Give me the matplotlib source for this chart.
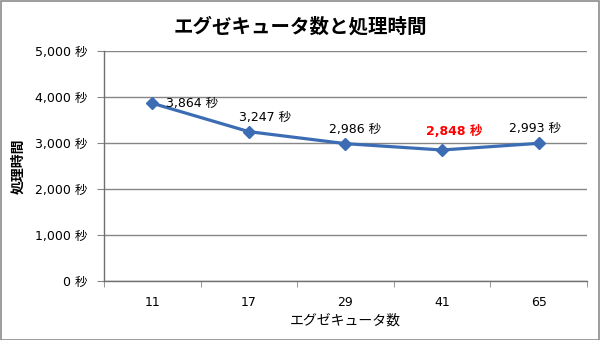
import matplotlib
matplotlib.use("Agg")
import matplotlib.pyplot as plt
from matplotlib.patches import Rectangle

plt.rcParams['font.family'] = ['DejaVu Sans', 'Noto Sans CJK JP']
JP = ['Noto Sans CJK JP', 'DejaVu Sans']

# data
executors = ['11', '17', '29', '41', '65']
seconds = [3864, 3247, 2986, 2848, 2993]
best_idx = 3
y_ticks = [0, 1000, 2000, 3000, 4000, 5000]
# label offsets in points (dx, dy) relative to each marker
label_offsets = [(29, 0), (12, 10), (7, 10), (9, 13), (-3, 11)]

LINE_COLOR = '#3c6db4'
GRID_COLOR = '#868686'

fig = plt.figure(figsize=(6, 3.4), dpi=100)
ax = fig.add_axes([0.1733, 0.1735, 0.8050, 0.6765])

x = list(range(len(executors)))
ax.plot(x, seconds, color=LINE_COLOR, linewidth=2.3, marker='D',
        markersize=6, markerfacecolor=LINE_COLOR, markeredgecolor=LINE_COLOR,
        zorder=3)

for i, v in enumerate(seconds):
    dx, dy = label_offsets[i]
    is_best = i == best_idx
    ax.annotate(f'{v:,} 秒', (i, v), xytext=(dx, dy), textcoords='offset points',
                ha='center', va='center', fontsize=9,
                color='#ff0000' if is_best else 'black',
                fontweight='bold' if is_best else 'normal')

ax.set_xlim(-0.5, len(executors) - 0.5)
ax.set_ylim(0, 5000)
ax.set_xticks(x)
ax.set_xticklabels(executors, fontsize=9)
ax.set_xticks([i - 0.5 for i in range(len(executors) + 1)], minor=True)
ax.tick_params(axis='x', which='major', length=0, pad=11)
ax.tick_params(axis='x', which='minor', length=4, direction='out', color=GRID_COLOR)
ax.set_yticks(y_ticks)
ax.set_yticklabels([f'{t:,} 秒' for t in y_ticks], fontsize=9)
ax.tick_params(axis='y', length=5, direction='out', color=GRID_COLOR, pad=7)

ax.grid(axis='y', color=GRID_COLOR, linewidth=1)
ax.set_axisbelow(True)
for side in ['top', 'right']:
    ax.spines[side].set_visible(False)
for side in ['left', 'bottom']:
    ax.spines[side].set_color('#707070')
    ax.spines[side].set_linewidth(1)

ax.set_xlabel('エグゼキュータ数', fontsize=10, family=JP, labelpad=3)
ax.set_ylabel('処理時間', fontsize=10, fontweight='bold', family=JP, labelpad=7)
fig.text(0.5, 0.922, 'エグゼキュータ数と処理時間', ha='center', va='center',
         fontsize=14, fontweight='bold', family=JP)

fig.patches.append(Rectangle((0.001, 0.001), 0.997, 0.996, transform=fig.transFigure,
                             fill=False, edgecolor='#8c8c8c', linewidth=1.2))

fig.savefig('out.png', dpi=100)
